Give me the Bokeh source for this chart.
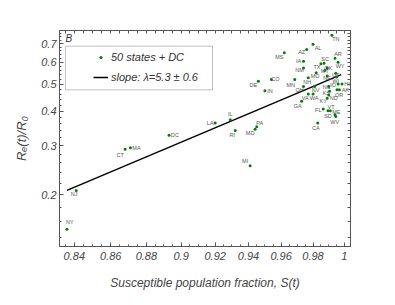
from bokeh.plotting import figure
from bokeh.models import Legend, LegendItem, LogAxis, FixedTicker, BoxAnnotation, Label, ColumnDataSource
from bokeh.embed import file_html
from bokeh.resources import INLINE
from bokeh.core.properties import value

# ---- data ----
states = ["TN", "AL", "AZ", "MS", "AR", "IA", "SC", "TX", "WY", "OK", "NM", "MT", "MO",
          "NE", "UT", "WI", "CO", "DE", "NH", "MN", "HI", "ID", "OH", "NV", "NC", "AK",
          "OR", "IN", "KS", "VA", "WA", "ND", "KY", "GA", "FL", "VT", "ME", "SD", "WV",
          "CA", "IL", "LA", "PA", "MD", "RI", "MI", "DC", "MA", "CT", "NJ", "NY"]
s_frac = [0.992, 0.980, 0.976, 0.962, 0.994, 0.974, 0.987, 0.985, 0.996, 0.989, 0.974, 0.9875, 0.982,
          0.989, 0.9945, 0.995, 0.954, 0.946, 0.977, 0.9685, 0.9985, 0.996, 0.974, 0.981, 0.990, 0.9968,
          0.9953, 0.950, 0.9905, 0.977, 0.980, 0.990, 0.989, 0.9728, 0.9865, 0.9895, 0.991, 0.994, 0.9945,
          0.983, 0.929, 0.920, 0.945, 0.944, 0.932, 0.941, 0.893, 0.871, 0.868, 0.841, 0.836]
r_ratio = [0.750, 0.696, 0.666, 0.648, 0.620, 0.605, 0.595, 0.592, 0.600, 0.571, 0.571, 0.560, 0.549,
           0.535, 0.547, 0.530, 0.519, 0.512, 0.527, 0.519, 0.500, 0.500, 0.490, 0.490, 0.490, 0.477,
           0.477, 0.473, 0.471, 0.461, 0.461, 0.457, 0.445, 0.434, 0.407, 0.401, 0.401, 0.388, 0.382,
           0.362, 0.372, 0.362, 0.351, 0.344, 0.340, 0.254, 0.327, 0.295, 0.291, 0.207, 0.150]
fit_s = [0.836, 0.998]
fit_r = [0.207, 0.541]
x_ticks = [0.84, 0.86, 0.88, 0.90, 0.92, 0.94, 0.96, 0.98, 1.00]
x_tick_labels = ["0.84", "0.86", "0.88", "0.9", "0.92", "0.94", "0.96", "0.98", "1"]
y_ticks = [0.2, 0.3, 0.4, 0.5, 0.6, 0.7]
y_tick_labels = ["0.2", "0.3", "0.4", "0.5", "0.6", "0.7"]

# label placement (pixel offsets of each state label from its dot)
label_dx = [4, 5, -5, -5, 3, -5, 1, -4, 2, 1, -4, 0, -1,
            0, 0, -1, 4, -5, -1, -4, 5, -5, -4, 1, -2, 6,
            2, 5, -3, -3, 1, 5, -4, -4, -5, 3, 6, -7, -1,
            -2, 0, -5, 3, -5, -3, -5, 6, 6, -5, -2, 3]
label_dy = [4, 4, 2, 4, -4, 0, -4, 3, 4, 0, 2, 1, 3,
            2, 2, 4, -1, 3.5, 4, 5, 0, 1, 3, 3, 0, 0,
            5, 0.5, 2, 4, 4, 3, 3, 5, 1, -4, 1, 1, 5,
            5, -6, -0.5, -4, 4, 4, -5, 0, 0, 6, 4, -7]

src = ColumnDataSource(dict(s=s_frac, r=r_ratio, st=states, dx=label_dx, dy=label_dy))

FONT = "Liberation Sans"
AX = "#555555"

p = figure(width=379, height=297, x_axis_type="log", y_axis_type="log",
           x_range=(0.832, 1.004), y_range=(0.13, 0.78),
           output_backend="svg", toolbar_location=None,
           min_border_left=59, min_border_right=29, min_border_top=30, min_border_bottom=51)
p.grid.visible = False
p.outline_line_color = AX
p.background_fill_color = "white"

x_minor = [0.835, 0.845, 0.85, 0.855, 0.865, 0.87, 0.875, 0.885, 0.89, 0.895, 0.905, 0.91, 0.915,
           0.925, 0.93, 0.935, 0.945, 0.95, 0.955, 0.965, 0.97, 0.975, 0.985, 0.99, 0.995]
y_minor = [0.14, 0.16, 0.18, 0.22, 0.24, 0.26, 0.28, 0.32, 0.34, 0.36, 0.38, 0.42, 0.44, 0.46,
           0.48, 0.52, 0.54, 0.56, 0.58, 0.62, 0.64, 0.66, 0.68, 0.72, 0.74, 0.76]

def style_axis(ax):
    ax.major_tick_in = 4
    ax.major_tick_out = 0
    ax.minor_tick_in = 2
    ax.minor_tick_out = 0
    ax.axis_line_color = AX
    ax.major_tick_line_color = AX
    ax.minor_tick_line_color = AX
    ax.major_label_text_font = FONT
    ax.major_label_text_font_style = "italic"
    ax.major_label_text_font_size = "11px"
    ax.major_label_text_color = "#444444"
    ax.axis_label_text_font = FONT
    ax.axis_label_text_font_style = "italic"
    ax.axis_label_text_color = "#444444"

p.xaxis.ticker = FixedTicker(ticks=x_ticks, minor_ticks=x_minor)
p.yaxis.ticker = FixedTicker(ticks=y_ticks, minor_ticks=y_minor)
p.xaxis.major_label_overrides = {t: l for t, l in zip(x_ticks, x_tick_labels)}
p.yaxis.major_label_overrides = {t: l for t, l in zip(y_ticks, y_tick_labels)}
for ax in p.xaxis + p.yaxis:
    style_axis(ax)
p.xaxis.axis_label = "Susceptible population fraction, S(t)"
p.xaxis.axis_label_text_font_size = "12px"
p.xaxis.axis_label_standoff = 13
p.xaxis.major_label_standoff = 5
p.yaxis.axis_label = "Rₑ(t)/R₀"
p.yaxis.axis_label_text_font_size = "13px"
p.yaxis.axis_label_standoff = 9
p.yaxis.major_label_standoff = 3

# mirrored tick marks on top and right (no labels: every tick is drawn as a "minor" tick)
top = LogAxis(ticker=FixedTicker(ticks=[], minor_ticks=sorted(x_ticks + x_minor)))
right = LogAxis(ticker=FixedTicker(ticks=[], minor_ticks=sorted(y_ticks + y_minor)))
for ax in (top, right):
    ax.major_tick_in = 0
    ax.major_tick_out = 0
    ax.minor_tick_in = 3
    ax.minor_tick_out = 0
    ax.axis_line_color = AX
    ax.minor_tick_line_color = AX
p.add_layout(top, "above")
p.add_layout(right, "right")

fit = p.line(fit_s, fit_r, line_color="black", line_width=1.5)
pts = p.scatter("s", "r", source=src, size=3, color="green", line_color=None)
p.text("s", "r", text="st", source=src, x_offset="dx", y_offset="dy",
       text_font=value(FONT), text_font_size="5.5px", text_color="#555555",
       text_align="center", text_baseline="middle")

box = BoxAnnotation(left=6, right=153, bottom=156.7, top=200.3,
                    left_units="screen", right_units="screen", top_units="screen", bottom_units="screen",
                    fill_alpha=0, line_color="#333333", line_width=1)
p.add_layout(box)

legend = Legend(items=[LegendItem(label="50 states + DC", renderers=[pts]),
                       LegendItem(label="slope: λ=5.3 ± 0.6", renderers=[fit])],
                location=(34, 159), border_line_alpha=0, background_fill_alpha=0,
                padding=0, spacing=0, margin=0, glyph_width=15, glyph_height=8,
                label_height=20, label_standoff=3, label_text_font=FONT,
                label_text_font_style="italic", label_text_font_size="11px",
                label_text_color="#333333")
p.add_layout(legend)

p.add_layout(Label(x=6, y=208, x_units="screen", y_units="screen", text="B",
                   text_font=FONT, text_font_style="italic", text_font_size="10px",
                   text_color="#333333", text_baseline="middle"))

open("out.html", "w").write(file_html(p, INLINE))
